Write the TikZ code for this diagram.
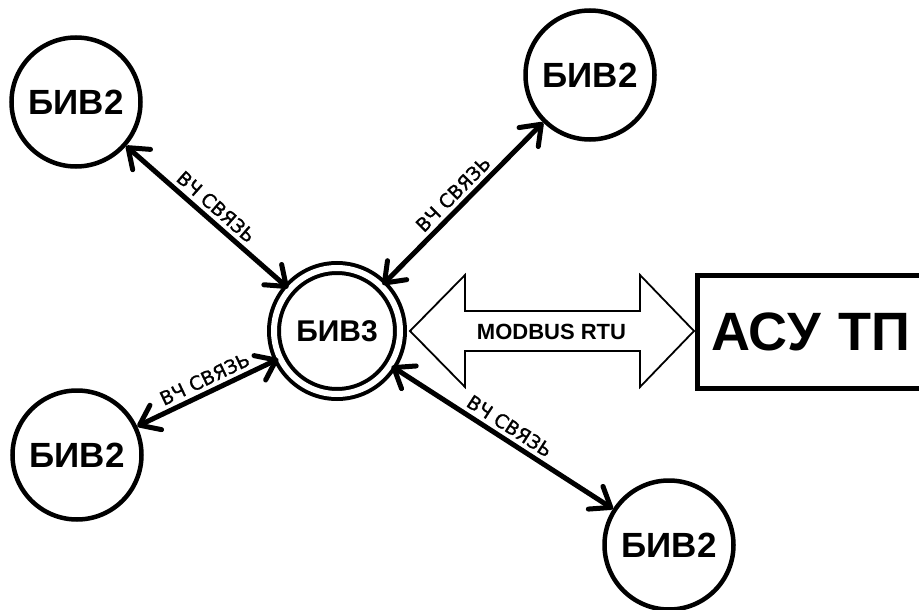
\documentclass[tikz,border=0pt]{standalone}
\usepackage{fontspec}
\setmainfont{Liberation Sans}
\newfontfamily\labfont[FakeBold=1.2]{DejaVu Sans}
\usetikzlibrary{arrows.meta,calc}
\begin{document}
\begin{tikzpicture}[x=1pt,y=-1pt,
  unit/.style={circle,draw,line width=4.5pt,minimum size=129pt,inner sep=0pt,
    font=\bfseries\fontsize{35}{35}\selectfont},
  hub/.style={circle,draw,line width=4pt,double,double distance=6pt,
    minimum size=126pt,inner sep=0pt,font=\bfseries\fontsize{30}{30}\selectfont},
  barb/.tip={Straight Barb[length=18pt,width=27pt,round]},
  link/.style={line width=5pt,barb-barb},
  linklabel/.style={font=\labfont\fontsize{19}{19}\selectfont,sloped,above,inner sep=4pt},
  sysbox/.style={draw,line width=4.5pt,anchor=west,minimum height=113pt,
    text width=230pt,inner xsep=14pt,align=left,
    font=\bfseries\fontsize{54}{54}\selectfont},
  bigarrow/.style={draw,line width=1.8pt,fill=white,line join=miter},
  buslabel/.style={font=\bfseries\fontsize{22}{22}\selectfont}
]
\useasboundingbox (0,0) rectangle (919,610);
\clip (0,0) rectangle (919,610);
\fill[white] (0,0) rectangle (919,610);

% central unit and field units
\node[hub]  (hub) at (337,331) {БИВ3};
\node[unit] (tl)  at (76,102)  {БИВ2};
\node[unit] (tr)  at (590,75)  {БИВ2};
\node[unit] (bl)  at (77,455)  {БИВ2};
\node[unit] (br)  at (669,545) {БИВ2};

% control system
\node[sysbox] (asu) at (695,332) {АСУ ТП};

% radio links
\draw[link] (tl)  -- node[linklabel] {ВЧ СВЯЗЬ} (hub);
\draw[link] (hub) -- node[linklabel] {ВЧ СВЯЗЬ} (tr);
\draw[link] (bl)  -- node[linklabel,pos=0.52] {ВЧ СВЯЗЬ} (hub);
\draw[link] (hub) -- node[linklabel] {ВЧ СВЯЗЬ} (br);

% fieldbus double arrow
\draw[bigarrow] ($(hub.east)+(8,0)$) -- ++(55,-56) -- ++(0,36) -- ++(175,0)
  -- ++(0,-36) -- ++(54,56) -- ++(-54,56) -- ++(0,-36) -- ++(-175,0)
  -- ++(0,36) -- cycle;
\node[buslabel] (bus) at ($(hub.east)!0.5!(asu.west)+(3,0)$) {MODBUS RTU};
\end{tikzpicture}
\end{document}
